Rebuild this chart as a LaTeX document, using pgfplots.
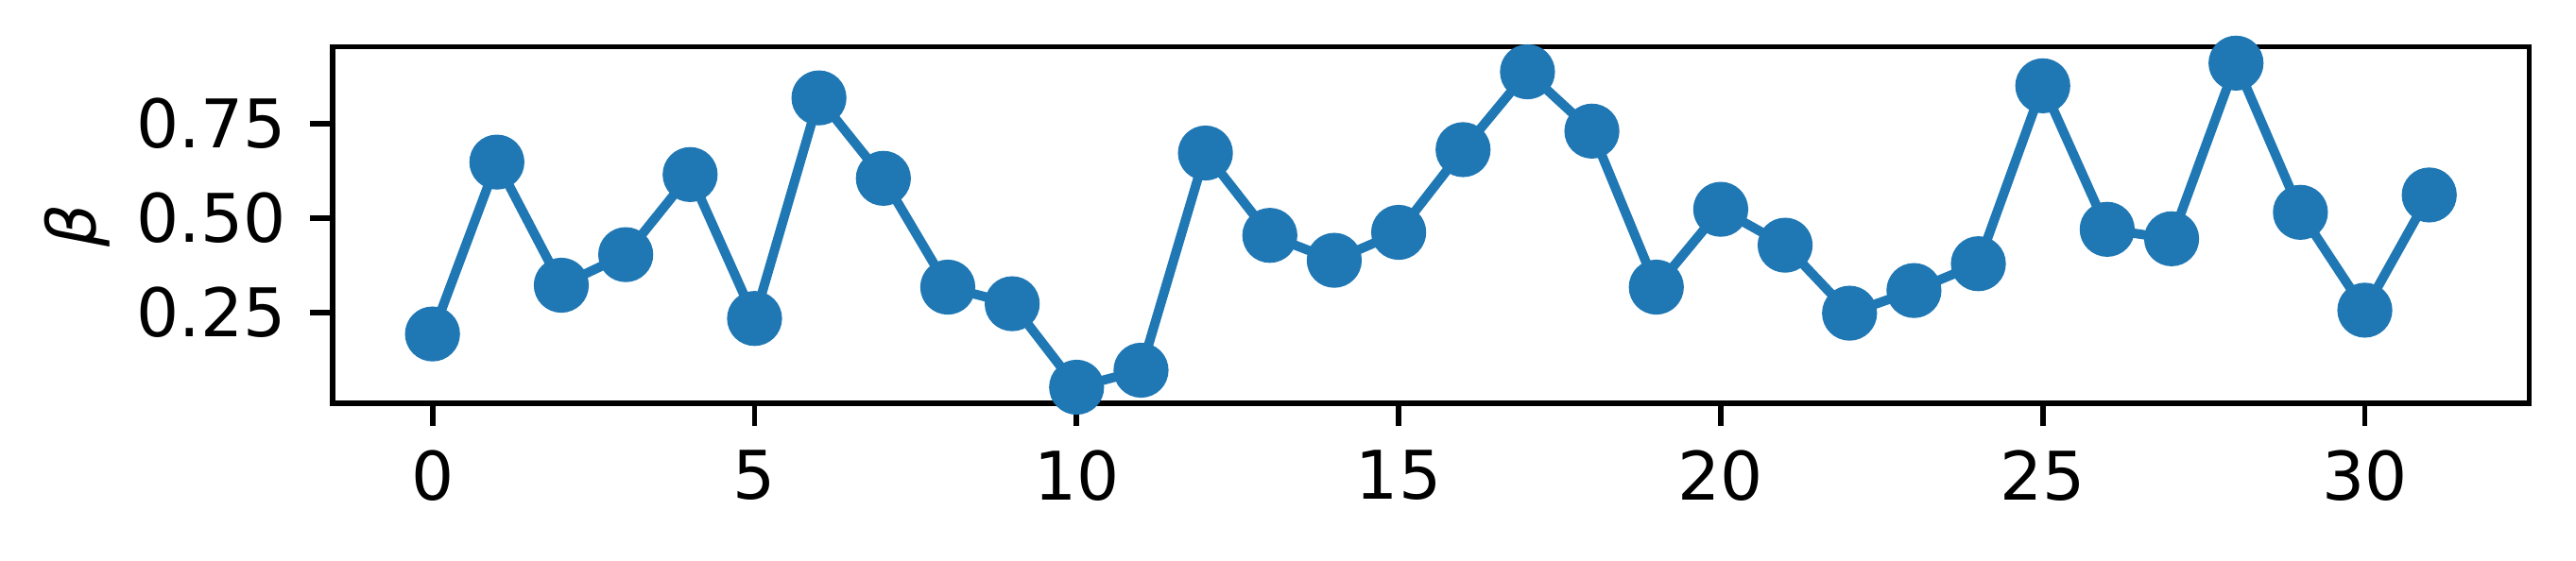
\documentclass[border=0pt]{standalone}
\usepackage{fontspec}
\setmainfont{DejaVu Sans}
\usepackage{pgfplots}
\pgfplotsset{compat=1.18}
\definecolor{tabblue}{RGB}{31,119,180}

\begin{document}
\begin{tikzpicture}
\begin{axis}[
    scale only axis,
    width=327.5pt, height=53.2pt,
    xmin=-1.55, xmax=32.55,
    ymin=0.009, ymax=0.953,
    xtick={0,5,...,30},
    ytick={0.25,0.5,0.75},
    /pgf/number format/assume math mode=true,
    yticklabel style={/pgf/number format/.cd, fixed, fixed zerofill, precision=2},
    tick align=outside,
    tick pos=left,
    major tick length=3.4pt,
    tick style={black, line width=0.8pt},
    axis line style={line width=0.8pt},
    every tick label/.append style={font=\fontsize{10}{12}\selectfont},
    ylabel={\textit{β}},
    ylabel style={font=\fontsize{10}{12}\selectfont, yshift=-2.9pt},
]
\addplot[tabblue, line width=1.4pt, mark=*, mark size=3.4pt,
         mark options={fill=tabblue, draw=tabblue}] coordinates {
    (0,0.193) (1,0.648) (2,0.322) (3,0.403) (4,0.615) (5,0.234)
    (6,0.818) (7,0.605) (8,0.317) (9,0.273) (10,0.052) (11,0.097)
    (12,0.672) (13,0.454) (14,0.388) (15,0.462) (16,0.681) (17,0.887)
    (18,0.730) (19,0.317) (20,0.523) (21,0.428) (22,0.248) (23,0.308)
    (24,0.379) (25,0.850) (26,0.470) (27,0.445) (28,0.910) (29,0.515)
    (30,0.256) (31,0.561)
};
\coordinate (sw) at (rel axis cs:0,0);
\coordinate (ne) at (rel axis cs:1,1);
\end{axis}
\pgfresetboundingbox
\path ([xshift=-49.6pt,yshift=-23.4pt]sw) rectangle ([xshift=7pt,yshift=7pt]ne);
\end{tikzpicture}
\end{document}
